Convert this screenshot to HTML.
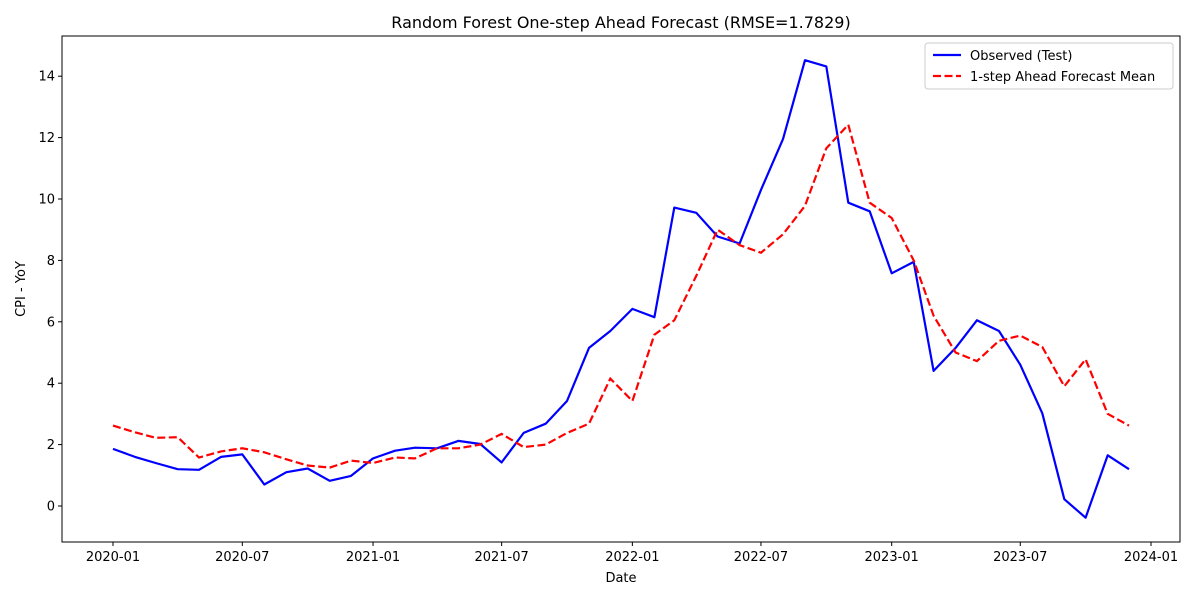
<!DOCTYPE html>
<html><head><meta charset="utf-8"><style>
body{margin:0;background:#fff;font-family:"DejaVu Sans","Liberation Sans",sans-serif}
svg text{font-family:"DejaVu Sans","Liberation Sans",sans-serif}
</style></head><body>
<svg id="chart" width="1200" height="600" xmlns="http://www.w3.org/2000/svg"></svg>
<script>
const observed=[1.86,1.6,1.4,1.2,1.18,1.6,1.68,0.7,1.1,1.22,0.82,0.98,
1.55,1.8,1.9,1.88,2.12,2.02,1.42,2.38,2.68,3.42,5.15,5.7,
6.42,6.15,9.72,9.55,8.78,8.55,10.3,11.95,14.52,14.32,9.88,9.6,
7.58,7.95,4.4,5.15,6.05,5.7,4.6,3.02,0.22,-0.38,1.65,1.2];
const forecast=[2.62,2.4,2.22,2.24,1.58,1.78,1.88,1.75,1.52,1.32,1.25,1.48,
1.4,1.58,1.55,1.88,1.88,2.0,2.35,1.92,2.0,2.38,2.68,4.15,
3.42,5.58,6.05,7.5,9.0,8.5,8.25,8.85,9.78,11.65,12.42,9.88,
9.38,8.0,6.2,5.0,4.72,5.38,5.55,5.18,3.9,4.78,3.0,2.62];
const yTicks=[0,2,4,6,8,10,12,14];
const xTickLabels=["2020-01","2020-07","2021-01","2021-07","2022-01","2022-07","2023-01","2023-07","2024-01"];
const startYear=2020;

const svg=document.getElementById('chart');
const NS="http://www.w3.org/2000/svg";
const L=62,R=1180,T=36,B=542;
const t0=Date.UTC(2020,0,1),t1=Date.UTC(2024,0,1);
function xs(t){return 113+(t-t0)/(t1-t0)*(1151-113);}
function ys(v){return 506-v*30.7;}
function monthT(i){return Date.UTC(startYear+Math.floor(i/12),i%12,1);}
function el(tag,attrs,txt){const e=document.createElementNS(NS,tag);for(const k in attrs)e.setAttribute(k,attrs[k]);if(txt!==undefined)e.textContent=txt;svg.appendChild(e);return e;}

let e=el('rect',{x:L,y:T,width:R-L,height:B-T,fill:'none',stroke:'#000','stroke-width':1});



yTicks.forEach(v=>{
  const y=ys(v);
  let t=el('line',{x1:L-4,x2:L,y1:y,y2:y,stroke:'#000'});
  
  
  let l=el('text',{x:L-7,y:y+4.5,'text-anchor':'end','font-size':13},String(v));
  
  
});
xTickLabels.forEach(s=>{
  const [yy,mm]=s.split('-').map(Number);
  const x=xs(Date.UTC(yy,mm-1,1));
  let t=el('line',{x1:x,x2:x,y1:B,y2:B+4,stroke:'#000'});
  
  
  let l=el('text',{x:x,y:B+19,'text-anchor':'middle','font-size':13},s);
  
  
});

function pts(arr){return arr.map((v,i)=>xs(monthT(i)).toFixed(1)+','+ys(v).toFixed(1)).join(' ');}
let p1=el('polyline',{points:pts(observed),fill:'none',stroke:'#0000ff','stroke-width':2.2,'stroke-linejoin':'round'});


let p2=el('polyline',{points:pts(forecast),fill:'none',stroke:'#ff0000','stroke-width':2.2,'stroke-dasharray':'8,3.5'});



let ti=el('text',{x:621,y:28,'text-anchor':'middle','font-size':16},'Random Forest One-step Ahead Forecast (RMSE=1.7829)');


let xt=el('text',{x:621,y:582,'text-anchor':'middle','font-size':13},'Date');


let yt=el('text',{x:25,y:289,'text-anchor':'middle','font-size':13,transform:'rotate(-90 25 289)'},'CPI - YoY');



let lg=el('rect',{x:925,y:43,width:248,height:46,rx:3,fill:'#fff',stroke:'#ccc'});


let l1=el('line',{x1:933,x2:961,y1:55,y2:55,stroke:'#0000ff','stroke-width':2.2});


let t1e=el('text',{x:970,y:60,'font-size':13},'Observed (Test)');


let l2=el('line',{x1:933,x2:961,y1:76,y2:76,stroke:'#ff0000','stroke-width':2.2,'stroke-dasharray':'8,3.5'});


let t2e=el('text',{x:970,y:81,'font-size':13},'1-step Ahead Forecast Mean');


</script>
</body></html>
